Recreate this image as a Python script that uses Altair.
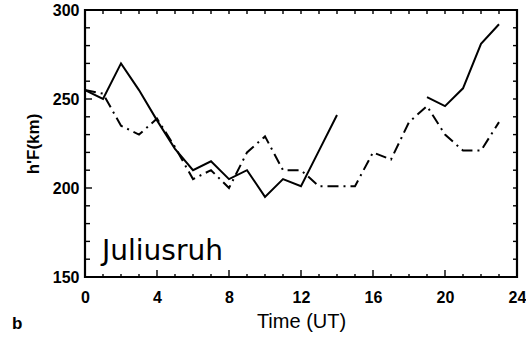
import altair as alt
import pandas as pd

# Virtual height h'F over Juliusruh, hourly values (UT)
hours_solid_a = [0, 1, 2, 3, 4, 5, 6, 7, 8, 9, 10, 11, 12, 13, 14]
hf_solid_a = [255, 250, 270, 255, 238, 222, 210, 215, 205, 210, 195, 205, 201, 221, 241]
hours_solid_b = [19, 20, 21, 22, 23]
hf_solid_b = [251, 246, 256, 281, 292]

hours_dashdot = list(range(0, 24))
hf_dashdot = [255, 253, 235, 230, 239, 223, 205, 210, 200, 220, 229, 210, 210,
              201, 201, 201, 220, 216, 237, 246, 230, 221, 221, 237]

x_major = [0, 4, 8, 12, 16, 20, 24]
x_minor = [h for h in range(0, 25) if h % 4 != 0]
y_major = [150, 200, 250, 300]
y_minor = [v for v in range(150, 301, 10) if v % 50 != 0]
top_ticks = list(range(1, 24))
right_ticks = list(range(160, 300, 10))

W, H = 432, 267
FONT = "Liberation Sans"

solid = pd.DataFrame({
    "hour": hours_solid_a + hours_solid_b,
    "hf": hf_solid_a + hf_solid_b,
    "seg": ["a"] * len(hours_solid_a) + ["b"] * len(hours_solid_b),
})
dashdot = pd.DataFrame({"hour": hours_dashdot, "hf": hf_dashdot})

xs = alt.Scale(domain=[0, 24], nice=False)
ys = alt.Scale(domain=[150, 300], nice=False, zero=False)

x_axis = alt.Axis(values=x_major, ticks=False, domain=False, grid=False,
                  labelFont=FONT, labelFontWeight="bold", labelFontSize=16,
                  labelColor="black", labelPadding=12, labelFlush=False,
                  title="Time (UT)", titleFont=FONT, titleFontSize=20,
                  titleFontWeight="normal", titleColor="black", titlePadding=6)
y_axis = alt.Axis(values=y_major, ticks=False, domain=False, grid=False,
                  labelFont=FONT, labelFontWeight="bold", labelFontSize=16,
                  labelColor="black", labelPadding=6,
                  title="h'F(km)", titleFont=FONT, titleFontSize=17,
                  titleFontWeight="bold", titleColor="black", titlePadding=10)

base_solid = alt.Chart(solid).mark_line(color="black", strokeWidth=2).encode(
    x=alt.X("hour:Q", scale=xs, axis=x_axis),
    y=alt.Y("hf:Q", scale=ys, axis=y_axis),
    detail="seg:N",
)

dd = alt.Chart(dashdot).mark_line(color="black", strokeWidth=2,
                                  strokeDash=[11, 5, 2, 5]).encode(
    x=alt.X("hour:Q", scale=xs),
    y=alt.Y("hf:Q", scale=ys),
)


def xticks(vals, length, top=False):
    df = pd.DataFrame({"hour": vals})
    y0, y1 = (0, length) if top else (H, H - length)
    return alt.Chart(df).mark_rule(color="black", strokeWidth=1.4).encode(
        x=alt.X("hour:Q", scale=xs), y=alt.value(y0), y2=alt.value(y1))


def yticks(vals, length, right=False):
    df = pd.DataFrame({"hf": vals})
    x0, x1 = (W, W - length) if right else (0, length)
    return alt.Chart(df).mark_rule(color="black", strokeWidth=1.4).encode(
        y=alt.Y("hf:Q", scale=ys), x=alt.value(x0), x2=alt.value(x1))


station = alt.Chart(pd.DataFrame({"t": ["Juliusruh"]})).mark_text(
    font="DejaVu Sans", fontSize=28, align="left", baseline="alphabetic",
    color="black"
).encode(text="t:N", x=alt.value(17), y=alt.value(250))

panel = alt.Chart(pd.DataFrame({"t": ["b"]})).mark_text(
    font=FONT, fontSize=17, fontWeight="bold", align="left",
    baseline="alphabetic", color="black"
).encode(text="t:N", x=alt.value(-73), y=alt.value(319))

chart = alt.layer(
    base_solid, dd,
    xticks(x_major, 7), xticks(x_minor, 3),
    xticks(top_ticks, 4, top=True),
    yticks(y_major, 7), yticks(y_minor, 5),
    yticks(right_ticks, 4, right=True),
    station, panel,
).properties(
    width=W, height=H,
    padding={"left": 85, "top": 10, "right": 9, "bottom": 69},
    autosize=alt.AutoSizeParams(type="none"),
    background="white",
).configure_view(stroke="black", strokeWidth=2.2)

chart.save("out.html", embed_options={"renderer": "svg", "actions": False})
